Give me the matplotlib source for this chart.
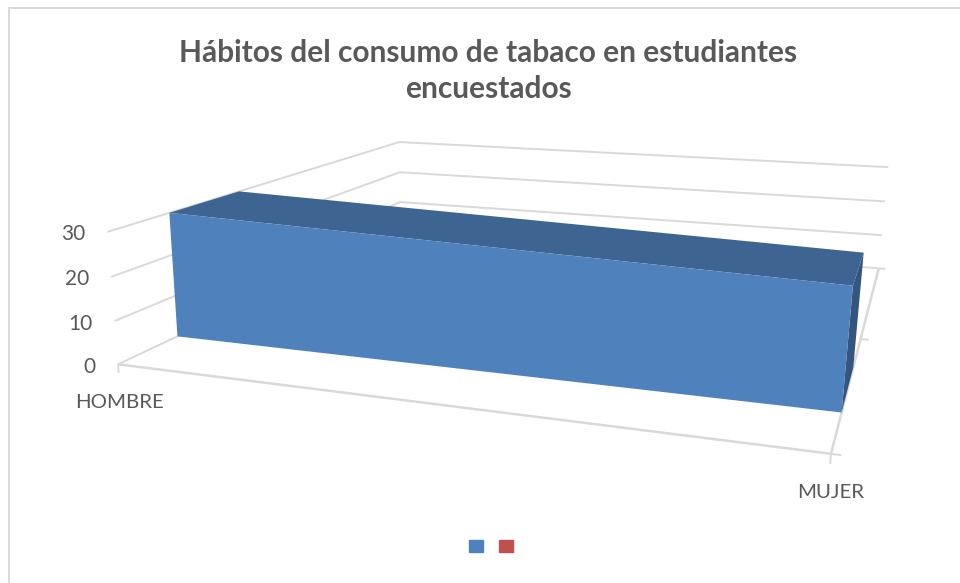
import numpy as np
import matplotlib
matplotlib.use("Agg")
import matplotlib.pyplot as plt
from matplotlib.lines import Line2D
from matplotlib.patches import Patch
from mpl_toolkits.mplot3d.art3d import Poly3DCollection

plt.rcParams['font.family'] = ['Lato', 'DejaVu Sans']

W, H = 960, 583

# datos del grafico
categories = ['HOMBRE', 'MUJER']
series_names = ['', '']
serie_azul = [30, 26]
serie_roja = [0, 0]
value_ticks = [0, 10, 20, 30]

TEXT = '#595959'
GRID = '#D9D9D9'
BLUE = '#4F81BD'
RED = '#C0504D'
BLUE_TOP = '#3E6492'
BLUE_SIDE = '#34557E'

# calibracion de la camara: esquinas del marco (x, serie, valor) -> pixel
frame_world = [(0, 0, 0), (1, 0, 0), (1, 2, 0), (0, 2, 0),
               (0, 0, 10), (0, 0, 20), (0, 0, 30),
               (0, 2, 10), (0, 2, 20), (0, 2, 30),
               (1, 2, 10), (1, 2, 20), (1, 2, 30)]
frame_pixel = [(119, 364), (831, 454), (879, 268), (400, 232),
               (114, 321), (111, 277), (107, 232),
               (400, 202), (400, 172), (400, 142),
               (882, 235), (885, 202), (888, 167)]


def fit_camera(world, pixel):
    rows = []
    for (x, y, z), (u, v) in zip(world, pixel):
        rows.append([x, y, z, 1, 0, 0, 0, 0, -u*x, -u*y, -u*z, -u])
        rows.append([0, 0, 0, 0, x, y, z, 1, -v*x, -v*y, -v*z, -v])
    P = np.linalg.svd(np.array(rows, float))[2][-1].reshape(3, 4)
    return P if P[2, 3] > 0 else -P


CAMERA = fit_camera(frame_world, frame_pixel)

fig = plt.figure(figsize=(W/100, H/100), dpi=100)
ax = fig.add_axes([0, 0, 1, 1], projection='3d')
ax.set_proj_type('ortho')  # evita el recorte de lineas en modo persp
ax.set_axis_off()
ax.patch.set_alpha(0)


def camera_proj():
    # pixel de la imagen -> coordenadas 2D que usa el eje
    to_display = np.array([[1, 0, 0], [0, -1, H], [0, 0, 1]], float)
    to_data = ax.transData.get_affine().inverted().get_matrix()
    m = to_data @ to_display @ CAMERA
    return np.array([m[0], m[1], [0, 1, 0, 0], m[2]])


ax.get_proj = camera_proj


def line3d(xs, ys, zs, lw=1.4):
    ax.plot(xs, ys, zs, color=GRID, lw=lw, clip_on=False, solid_capstyle='butt')


# rejilla de las paredes y suelo
for v in value_ticks:
    line3d([0, 0, 1], [0, 2, 2], [v, v, v])
line3d([0, 1, 1], [0, 0, 2], [0, 0, 0], lw=1.8)

# marcas de los ejes
line3d([0, 0], [0, 0], [0, -2])
line3d([1, 1], [0, 0], [0, -2])
for s in [0, 1, 2]:
    line3d([1, 1.012], [s, s], [0, 0])

# areas: una por serie, en su hueco de profundidad
depth_start = 0.3
depth_size = 0.4
for i, values in enumerate([serie_azul, serie_roja]):
    if max(values) <= 0:
        continue
    y0, y1 = i + depth_start, i + depth_start + depth_size
    v0, v1 = values
    faces = [[(0, y0, 0), (1, y0, 0), (1, y0, v1), (0, y0, v0)],
             [(0, y0, v0), (1, y0, v1), (1, y1, v1), (0, y1, v0)],
             [(1, y0, 0), (1, y1, 0), (1, y1, v1), (1, y0, v1)]]
    area = Poly3DCollection(faces, facecolors=[BLUE, BLUE_TOP, BLUE_SIDE],
                            edgecolors='none', zsort='average')
    ax.add_collection3d(area, autolim=False)
    area.set_clip_on(False)

# textos
fig.text(488.5/W, 1 - 71/H, 'Hábitos del consumo de tabaco en estudiantes\nencuestados',
         ha='center', va='center', fontsize=21.5, fontweight='bold', color=TEXT,
         linespacing=1.33)

value_right = [96, 93, 89, 85]
value_y = [367, 324, 279, 234]
for v, xr, yc in zip(value_ticks, value_right, value_y):
    fig.text(xr/W, 1 - yc/H, str(v), ha='right', va='center', fontsize=15, color=TEXT)

fig.text(119.5/W, 1 - 402.5/H, categories[0], ha='center', va='center', fontsize=14.7, color=TEXT)
fig.text(831/W, 1 - 492.5/H, categories[1], ha='center', va='center', fontsize=14.7, color=TEXT)

# leyenda sin texto
handles = [Patch(color=BLUE), Patch(color=RED)]
fig.legend(handles, series_names, loc='center', bbox_to_anchor=(491/W, 1 - 546/H),
           ncol=2, frameon=False, fontsize=10, handlelength=1, handleheight=1,
           handletextpad=0, columnspacing=1.15)

# marco del grafico
fig.add_artist(Line2D([9/W, 9/W], [0, 1 - 8/H], color=GRID, lw=1.4))
fig.add_artist(Line2D([9/W, 1], [1 - 8/H, 1 - 8/H], color=GRID, lw=1.4))

fig.savefig('out.png', dpi=100)
